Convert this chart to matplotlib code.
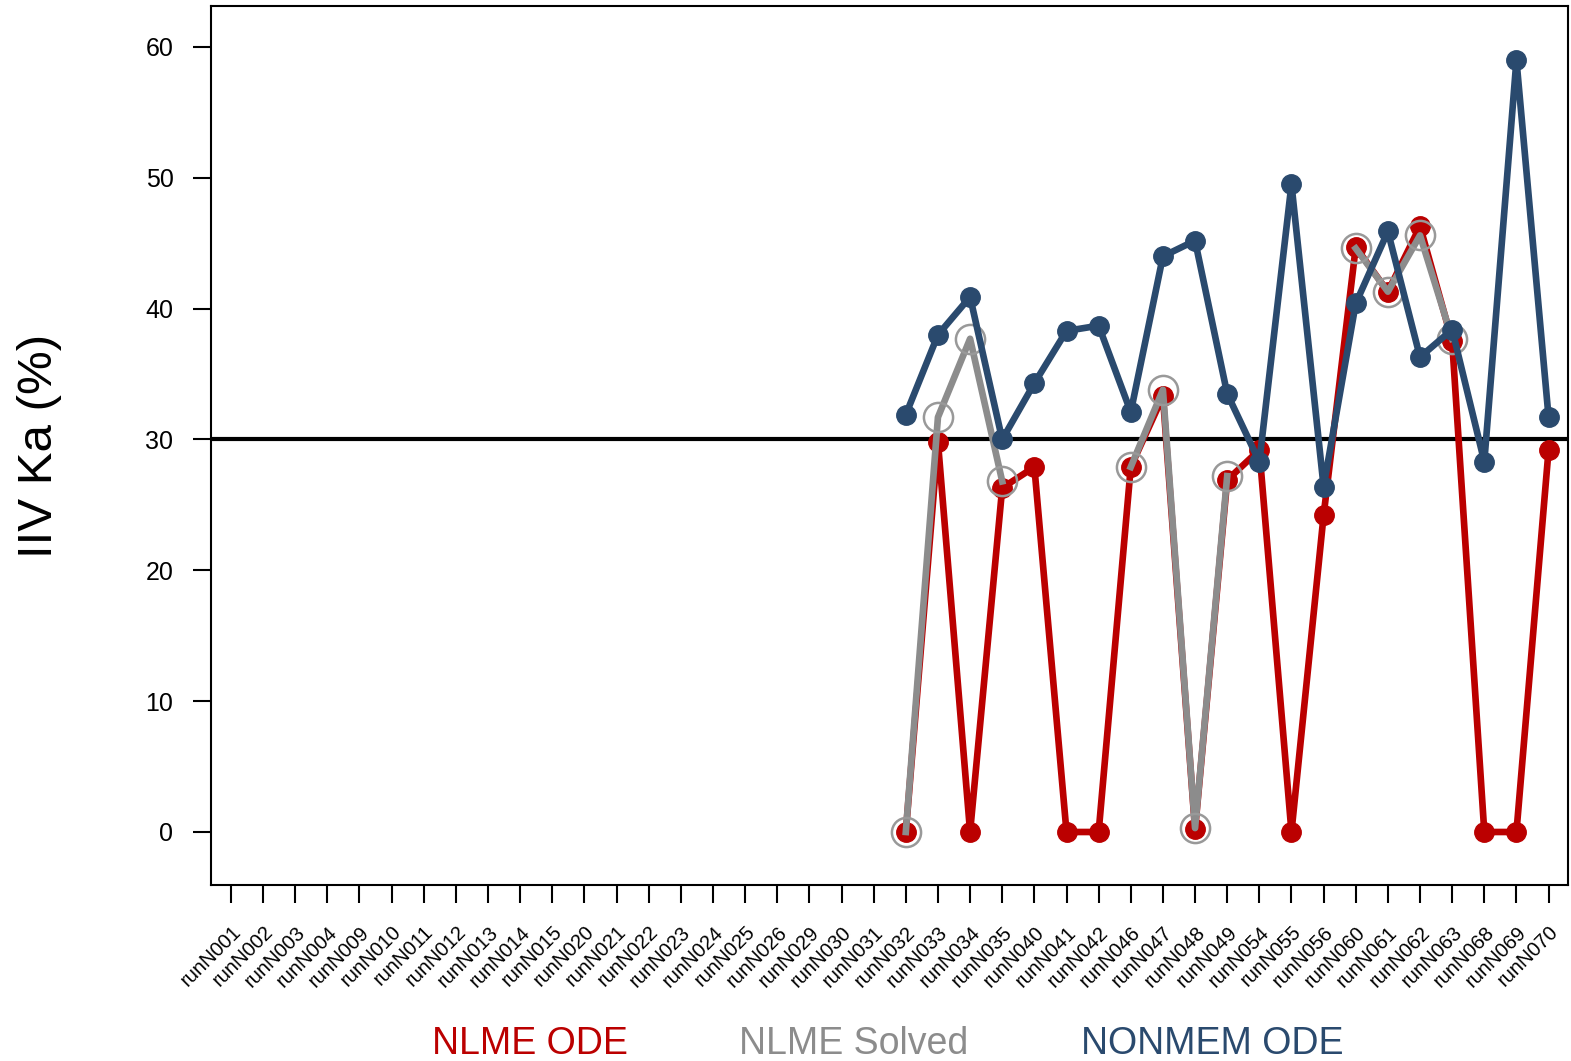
import numpy as np
import matplotlib.pyplot as plt

plt.rcParams['font.family'] = ['Liberation Sans', 'DejaVu Sans']

runs = ['runN001', 'runN002', 'runN003', 'runN004', 'runN009', 'runN010', 'runN011',
        'runN012', 'runN013', 'runN014', 'runN015', 'runN020', 'runN021', 'runN022',
        'runN023', 'runN024', 'runN025', 'runN026', 'runN029', 'runN030', 'runN031',
        'runN032', 'runN033', 'runN034', 'runN035', 'runN040', 'runN041', 'runN042',
        'runN046', 'runN047', 'runN048', 'runN049', 'runN054', 'runN055', 'runN056',
        'runN060', 'runN061', 'runN062', 'runN063', 'runN068', 'runN069', 'runN070']

nan = np.nan
# first 21 runs have no estimate
pad = [nan] * 21

nlme_ode = pad + [0.0, 29.8, 0.0, 26.3, 27.9, 0.0, 0.0, 27.9, 33.3, 0.2, 26.9,
                  29.2, 0.0, 24.2, 44.7, 41.3, 46.3, 37.5, 0.0, 0.0, 29.2]
nlme_solved = pad + [0.0, 31.7, 37.7, 26.8, nan, nan, nan, 27.9, 33.8, 0.3, 27.2,
                     nan, nan, nan, 44.6, 41.3, 45.6, 37.7, nan, nan, nan]
nonmem_ode = pad + [31.9, 38.0, 40.9, 30.0, 34.3, 38.3, 38.7, 32.1, 44.0, 45.2, 33.5,
                    28.3, 49.5, 26.4, 40.4, 45.9, 36.3, 38.4, 28.3, 59.0, 31.7]

red = '#BB0000'
grey = '#8C8C8C'
navy = '#2A4A6E'

fig = plt.figure(figsize=(15.71, 10.61), dpi=100)
ax = fig.add_axes([0.1343, 0.1659, 0.8637, 0.8284])

x = np.arange(len(runs))
ax.axhline(30, color='black', lw=3, zorder=1)
ax.plot(x, nlme_ode, color=red, lw=4.8, marker='o', ms=14, zorder=2)
ax.plot(x, nlme_solved, color=grey, lw=4.8, zorder=3)
ax.plot(x, nlme_solved, ls='none', marker='o', ms=21, mfc='none', mec='#999999',
        mew=1.8, zorder=3)
ax.plot(x, nonmem_ode, color=navy, lw=4.8, marker='o', ms=14, zorder=4)

ax.set_xlim(-0.62, 41.6)
ax.set_ylim(-4.05, 63.13)
ax.set_yticks(range(0, 61, 10))
ax.set_xticks(x)
ax.set_xticklabels(runs, rotation=45, ha='right', rotation_mode='anchor', fontsize=14.5)
ax.tick_params(axis='y', labelsize=18, length=13, width=1.5, pad=14)
ax.tick_params(axis='x', length=13, width=1.5, pad=14)
for s in ax.spines.values():
    s.set_linewidth(1.5)
ax.set_ylabel('IIV Ka (%)', fontsize=35.5)
ax.yaxis.set_label_coords(-0.11, 0.5)

fig.text(530 / 1571, 7 / 1061, 'NLME ODE', color=red, fontsize=27, ha='center', va='baseline')
fig.text(854 / 1571, 7 / 1061, 'NLME Solved', color=grey, fontsize=27, ha='center', va='baseline')
fig.text(1212 / 1571, 7 / 1061, 'NONMEM ODE', color=navy, fontsize=27, ha='center', va='baseline')

fig.savefig('out.png', dpi=100)
